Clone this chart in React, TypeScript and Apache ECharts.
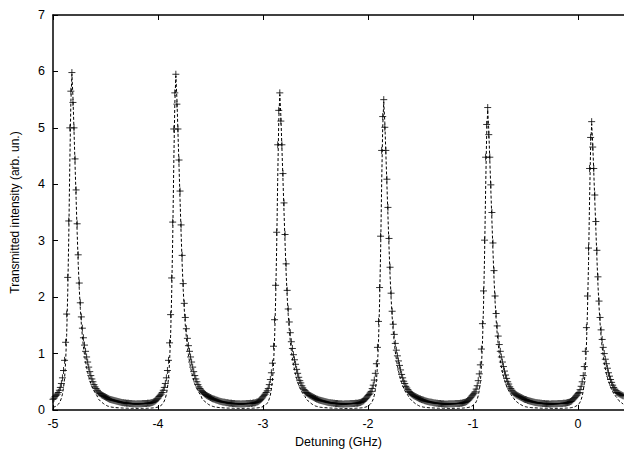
import React, { useEffect, useRef } from "react";
import * as echarts from "echarts";

// Detuning grid of the scan (GHz)
const xStart = -5;
const xStep = 0.01;
const xMin = -5;
const xMax = 0.438;
const yMin = 0;
const yMax = 7;

// Measured transmitted intensity (arb. un.), one array per segment of the scan
const leadInData = [0.19, 0.21, 0.24, 0.26, 0.28, 0.31, 0.35, 0.40, 0.47, 0.57, 0.70, 0.88, 1.20, 1.70, 2.35, 3.35, 5.00, 5.65];

const peak1Data = [
  5.98, 5.45, 5.00, 4.45, 3.90, 3.30, 2.75, 2.25, 1.90, 1.65, 1.45, 1.28, 1.15, 1.04, 0.94, 0.85, 0.76, 0.68, 0.61, 0.55, 0.50, 0.45, 0.41, 0.38, 0.35,
  0.32, 0.30, 0.29, 0.27, 0.26, 0.25, 0.24, 0.23, 0.22, 0.21, 0.20, 0.19, 0.185, 0.18, 0.175, 0.17, 0.165, 0.16, 0.155, 0.15, 0.145, 0.14, 0.135, 0.13, 0.13,
  0.125, 0.125, 0.12, 0.12, 0.12, 0.115, 0.115, 0.115, 0.11, 0.11, 0.11, 0.105, 0.11, 0.11, 0.11, 0.11, 0.11, 0.115, 0.115, 0.115,
  0.115, 0.115, 0.12, 0.12, 0.12, 0.125, 0.13, 0.135, 0.145, 0.155, 0.17, 0.19, 0.21, 0.24, 0.26, 0.28, 0.31,
  0.35, 0.40, 0.47, 0.57, 0.70, 0.88, 1.19, 1.69, 2.34, 3.33, 4.98, 5.62,
];

const peak2Data = [
  5.95, 5.42, 4.98, 4.43, 3.88, 3.28, 2.74, 2.24, 1.89, 1.64, 1.44, 1.27, 1.14, 1.04, 0.94, 0.85, 0.76, 0.68, 0.61, 0.55, 0.50, 0.45, 0.41, 0.38, 0.35,
  0.33, 0.31, 0.29, 0.275, 0.26, 0.25, 0.24, 0.23, 0.22, 0.21, 0.20, 0.195, 0.19, 0.18, 0.175, 0.17, 0.16, 0.155, 0.15, 0.145, 0.14, 0.14, 0.135, 0.13, 0.13,
  0.125, 0.12, 0.12, 0.12, 0.115, 0.115, 0.115, 0.11, 0.11, 0.11, 0.11, 0.11, 0.105, 0.11, 0.11, 0.11, 0.11, 0.115, 0.115, 0.115,
  0.115, 0.12, 0.115, 0.12, 0.125, 0.125, 0.13, 0.14, 0.145, 0.155, 0.17, 0.185, 0.21, 0.235, 0.26, 0.28, 0.31,
  0.34, 0.38, 0.45, 0.54, 0.66, 0.83, 1.13, 1.60, 2.21, 3.15, 4.70, 5.31,
];

const peak3Data = [
  5.62, 5.12, 4.70, 4.19, 3.67, 3.11, 2.59, 2.12, 1.79, 1.56, 1.37, 1.21, 1.09, 0.98, 0.89, 0.81, 0.72, 0.65, 0.58, 0.52, 0.48, 0.43, 0.39, 0.36, 0.34,
  0.31, 0.295, 0.28, 0.265, 0.255, 0.245, 0.235, 0.225, 0.215, 0.205, 0.195, 0.19, 0.18, 0.175, 0.17, 0.165, 0.16, 0.155, 0.15, 0.145, 0.14, 0.135, 0.13, 0.13, 0.125,
  0.125, 0.12, 0.12, 0.115, 0.115, 0.115, 0.11, 0.11, 0.11, 0.11, 0.105, 0.105, 0.11, 0.11, 0.11, 0.11, 0.11, 0.115, 0.115, 0.115,
  0.115, 0.115, 0.12, 0.12, 0.12, 0.125, 0.13, 0.135, 0.145, 0.155, 0.165, 0.185, 0.205, 0.23, 0.255, 0.275, 0.30,
  0.33, 0.38, 0.44, 0.53, 0.65, 0.82, 1.11, 1.57, 2.17, 3.08, 4.60, 5.20,
];

const peak4Data = [
  5.50, 5.01, 4.60, 4.09, 3.59, 3.04, 2.53, 2.07, 1.75, 1.52, 1.34, 1.18, 1.06, 0.96, 0.87, 0.79, 0.71, 0.63, 0.57, 0.51, 0.47, 0.42, 0.39, 0.36, 0.33,
  0.31, 0.29, 0.275, 0.26, 0.25, 0.24, 0.23, 0.22, 0.21, 0.20, 0.195, 0.185, 0.18, 0.175, 0.165, 0.16, 0.155, 0.15, 0.145, 0.14, 0.14, 0.135, 0.13, 0.125, 0.125,
  0.12, 0.12, 0.115, 0.115, 0.115, 0.11, 0.11, 0.11, 0.105, 0.105, 0.105, 0.105, 0.11, 0.11, 0.11, 0.11, 0.11, 0.11, 0.115, 0.115,
  0.115, 0.115, 0.115, 0.12, 0.12, 0.125, 0.13, 0.135, 0.14, 0.15, 0.165, 0.18, 0.20, 0.225, 0.25, 0.27, 0.295,
  0.32, 0.37, 0.43, 0.52, 0.64, 0.80, 1.08, 1.53, 2.11, 3.01, 4.48, 5.06,
];

const peak5Data = [
  5.36, 4.88, 4.48, 3.99, 3.50, 2.96, 2.47, 2.02, 1.71, 1.49, 1.31, 1.16, 1.04, 0.94, 0.85, 0.77, 0.69, 0.62, 0.56, 0.50, 0.46, 0.41, 0.38, 0.35, 0.32,
  0.30, 0.285, 0.27, 0.26, 0.25, 0.24, 0.23, 0.22, 0.21, 0.20, 0.19, 0.185, 0.18, 0.17, 0.165, 0.16, 0.155, 0.15, 0.145, 0.14, 0.135, 0.13, 0.13, 0.125, 0.125,
  0.12, 0.12, 0.115, 0.115, 0.115, 0.11, 0.11, 0.11, 0.11, 0.105, 0.105, 0.11, 0.11, 0.11, 0.11, 0.11, 0.11, 0.115, 0.115, 0.115,
  0.115, 0.115, 0.12, 0.12, 0.12, 0.125, 0.13, 0.135, 0.14, 0.15, 0.16, 0.18, 0.20, 0.22, 0.245, 0.265, 0.29,
  0.31, 0.36, 0.42, 0.50, 0.61, 0.77, 1.04, 1.46, 2.02, 2.87, 4.28, 4.83,
];

const peak6Data = [
  5.11, 4.66, 4.28, 3.81, 3.34, 2.83, 2.36, 1.93, 1.64, 1.42, 1.25, 1.11, 1.00, 0.90, 0.82, 0.74, 0.66, 0.60, 0.54, 0.49,
  0.44, 0.40, 0.37, 0.34, 0.31, 0.30, 0.29, 0.28, 0.27, 0.26, 0.25,
];

// Fitted transmission (dashed curve), same detuning grid
const fitLeadIn = [0.048, 0.053, 0.06, 0.07, 0.083, 0.10, 0.125, 0.16, 0.21, 0.28, 0.39, 0.56, 0.85, 1.32, 2.05, 3.05, 4.35, 5.45];

const fitPeak1 = [
  5.95, 5.55, 4.95, 4.35, 3.75, 3.15, 2.60, 2.15, 1.80, 1.52, 1.30, 1.12, 0.98, 0.86, 0.76, 0.67, 0.60, 0.53, 0.47, 0.42, 0.38, 0.34, 0.31, 0.28, 0.25,
  0.20, 0.18, 0.16, 0.145, 0.13, 0.115, 0.10, 0.09, 0.08, 0.07, 0.065, 0.06, 0.055, 0.05, 0.048, 0.046, 0.044, 0.042, 0.04, 0.04, 0.038, 0.037, 0.036, 0.035, 0.034,
  0.033, 0.033, 0.032, 0.032, 0.031, 0.031, 0.03, 0.03, 0.03, 0.03, 0.03, 0.03, 0.03, 0.03, 0.03, 0.03, 0.03, 0.03, 0.03, 0.03,
  0.03, 0.03, 0.031, 0.032, 0.033, 0.034, 0.035, 0.037, 0.039, 0.041, 0.044, 0.048, 0.053, 0.06, 0.07, 0.083, 0.10,
  0.125, 0.16, 0.21, 0.28, 0.39, 0.56, 0.85, 1.31, 2.04, 3.03, 4.33, 5.42,
];

const fitPeak2 = [
  5.92, 5.52, 4.93, 4.33, 3.73, 3.13, 2.59, 2.14, 1.79, 1.51, 1.29, 1.11, 0.98, 0.86, 0.76, 0.67, 0.60, 0.53, 0.47, 0.42, 0.38, 0.34, 0.31, 0.28, 0.25,
  0.20, 0.18, 0.16, 0.145, 0.13, 0.115, 0.10, 0.09, 0.08, 0.072, 0.065, 0.06, 0.055, 0.051, 0.048, 0.046, 0.044, 0.042, 0.041, 0.04, 0.038, 0.037, 0.036, 0.035, 0.034,
  0.034, 0.033, 0.032, 0.032, 0.031, 0.031, 0.031, 0.03, 0.03, 0.03, 0.03, 0.03, 0.03, 0.03, 0.03, 0.03, 0.03, 0.03, 0.03, 0.03,
  0.03, 0.03, 0.031, 0.032, 0.033, 0.034, 0.035, 0.037, 0.039, 0.041, 0.044, 0.048, 0.053, 0.06, 0.07, 0.082, 0.10,
  0.12, 0.15, 0.20, 0.265, 0.37, 0.53, 0.80, 1.24, 1.93, 2.87, 4.09, 5.12,
];

const fitPeak3 = [
  5.59, 5.21, 4.65, 4.09, 3.52, 2.96, 2.44, 2.02, 1.69, 1.43, 1.22, 1.05, 0.92, 0.81, 0.72, 0.63, 0.57, 0.50, 0.44, 0.40, 0.36, 0.32, 0.29, 0.26, 0.24,
  0.20, 0.18, 0.16, 0.145, 0.13, 0.115, 0.10, 0.09, 0.08, 0.07, 0.065, 0.06, 0.055, 0.05, 0.048, 0.046, 0.044, 0.042, 0.04, 0.04, 0.038, 0.037, 0.036, 0.035, 0.034,
  0.033, 0.033, 0.032, 0.032, 0.031, 0.031, 0.03, 0.03, 0.03, 0.03, 0.029, 0.029, 0.029, 0.029, 0.029, 0.03, 0.03, 0.03, 0.03, 0.03,
  0.03, 0.03, 0.031, 0.032, 0.033, 0.034, 0.035, 0.037, 0.039, 0.041, 0.044, 0.048, 0.053, 0.06, 0.07, 0.082, 0.10,
  0.12, 0.15, 0.195, 0.26, 0.36, 0.52, 0.78, 1.21, 1.88, 2.80, 4.00, 5.01,
];

const fitPeak4 = [
  5.46, 5.10, 4.55, 4.00, 3.44, 2.89, 2.39, 1.98, 1.65, 1.40, 1.20, 1.03, 0.90, 0.79, 0.70, 0.62, 0.55, 0.49, 0.43, 0.39, 0.35, 0.31, 0.29, 0.26, 0.23,
  0.20, 0.18, 0.16, 0.145, 0.13, 0.115, 0.10, 0.09, 0.08, 0.07, 0.065, 0.06, 0.055, 0.05, 0.048, 0.046, 0.044, 0.042, 0.04, 0.039, 0.038, 0.037, 0.036, 0.035, 0.034,
  0.033, 0.032, 0.032, 0.031, 0.031, 0.03, 0.03, 0.03, 0.03, 0.03, 0.029, 0.029, 0.029, 0.029, 0.029, 0.03, 0.03, 0.03, 0.03, 0.03,
  0.03, 0.03, 0.031, 0.032, 0.033, 0.034, 0.035, 0.037, 0.038, 0.041, 0.044, 0.047, 0.052, 0.06, 0.07, 0.082, 0.10,
  0.115, 0.145, 0.19, 0.255, 0.35, 0.50, 0.76, 1.18, 1.84, 2.73, 3.89, 4.88,
];

const fitPeak5 = [
  5.32, 4.97, 4.43, 3.89, 3.36, 2.82, 2.33, 1.93, 1.61, 1.36, 1.17, 1.00, 0.88, 0.77, 0.68, 0.60, 0.54, 0.48, 0.42, 0.38, 0.34, 0.31, 0.28, 0.25, 0.23,
  0.20, 0.175, 0.155, 0.14, 0.125, 0.11, 0.10, 0.09, 0.08, 0.07, 0.064, 0.058, 0.054, 0.05, 0.047, 0.045, 0.043, 0.041, 0.04, 0.039, 0.038, 0.037, 0.036, 0.035, 0.034,
  0.033, 0.032, 0.032, 0.031, 0.031, 0.03, 0.03, 0.03, 0.03, 0.03, 0.029, 0.029, 0.029, 0.029, 0.029, 0.03, 0.03, 0.03, 0.03, 0.03,
  0.03, 0.03, 0.031, 0.032, 0.033, 0.034, 0.035, 0.036, 0.038, 0.04, 0.043, 0.047, 0.052, 0.059, 0.068, 0.08, 0.095,
  0.11, 0.14, 0.185, 0.245, 0.34, 0.48, 0.73, 1.13, 1.75, 2.60, 3.71, 4.65,
];

const fitPeak6 = [
  5.07, 4.73, 4.22, 3.71, 3.20, 2.69, 2.22, 1.84, 1.54, 1.30, 1.11, 0.96, 0.84, 0.74, 0.65, 0.58, 0.52, 0.46, 0.41, 0.36,
  0.33, 0.29, 0.27, 0.24, 0.22, 0.19, 0.165, 0.15, 0.135, 0.12, 0.105,
];

const measured = [...leadInData, ...peak1Data, ...peak2Data, ...peak3Data, ...peak4Data, ...peak5Data, ...peak6Data];
const fitted = [...fitLeadIn, ...fitPeak1, ...fitPeak2, ...fitPeak3, ...fitPeak4, ...fitPeak5, ...fitPeak6];

const toPairs = (vals: number[]) =>
  vals.map((v, i) => [Number((xStart + i * xStep).toFixed(3)), v]);

const FONT = "'Liberation Sans', Arial, Helvetica, sans-serif";

export default function App() {
  const ref = useRef<HTMLDivElement>(null);

  useEffect(() => {
    if (!ref.current) return;
    const chart = echarts.init(ref.current, null, { renderer: "svg" });
    const axisLine = { show: true, onZero: false, lineStyle: { color: "#000", width: 1.5 } };
    const axisTick = { show: true, inside: true, length: 5, lineStyle: { color: "#000", width: 1 } };
    chart.setOption({
      animation: false,
      backgroundColor: "#fff",
      grid: { left: 53, width: 571, top: 15, height: 400, containLabel: false },
      xAxis: [
        {
          type: "value",
          position: "bottom",
          min: xMin,
          max: xMax,
          interval: 1,
          axisLine,
          axisTick,
          splitLine: { show: false },
          axisLabel: { color: "#000", fontSize: 12.5, fontFamily: FONT, margin: 7, showMaxLabel: false },
          name: "Detuning (GHz)",
          nameLocation: "middle",
          nameGap: 25,
          nameTextStyle: { color: "#000", fontSize: 12.5, fontFamily: FONT },
        },
        {
          type: "value",
          position: "top",
          min: xMin,
          max: xMax,
          interval: 1,
          axisLine,
          axisTick,
          splitLine: { show: false },
          axisLabel: { show: false },
        },
      ],
      yAxis: [
        {
          type: "value",
          position: "left",
          min: yMin,
          max: yMax,
          interval: 1,
          axisLine,
          axisTick,
          splitLine: { show: false },
          axisLabel: { color: "#000", fontSize: 12.5, fontFamily: FONT, margin: 8 },
          name: "Transmitted intensity (arb. un.)",
          nameLocation: "middle",
          nameGap: 32,
          nameRotate: 90,
          nameTextStyle: { color: "#000", fontSize: 12, fontFamily: FONT },
        },
      ],
      series: [
        {
          type: "scatter",
          name: "data",
          data: toPairs(measured),
          symbol: "path://M0,5L10,5M5,0L5,10",
          symbolSize: 7,
          itemStyle: { color: "rgba(0,0,0,0)", borderColor: "#000", borderWidth: 1 },
          silent: true,
          z: 2,
        },
        {
          type: "line",
          name: "fit",
          data: toPairs(fitted),
          showSymbol: false,
          symbol: "none",
          lineStyle: { color: "#000", width: 1, type: [3, 2] },
          silent: true,
          z: 3,
        },
      ],
    });
    return () => chart.dispose();
  }, []);

  return (
    <div
      ref={ref}
      style={{ position: "fixed", left: 0, top: 0, width: 624, height: 453, background: "#fff" }}
    />
  );
}
